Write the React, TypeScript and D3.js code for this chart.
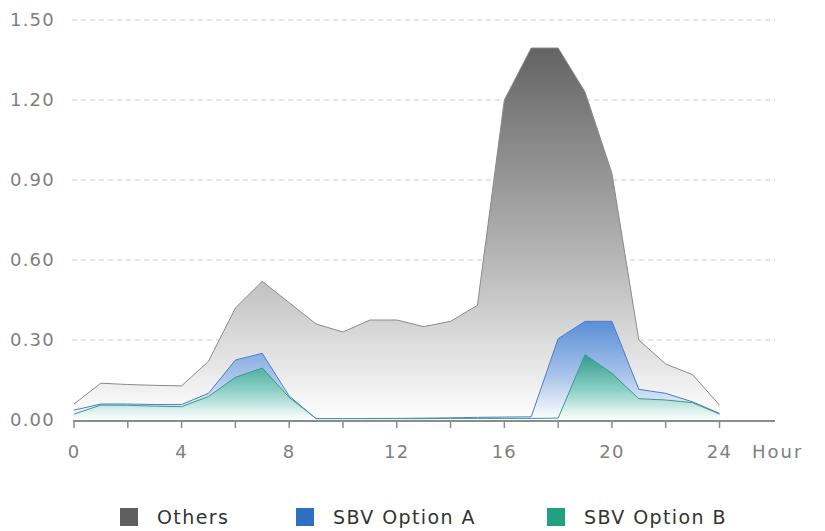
import React from "react";
import * as d3 from "d3";

const hours = d3.range(0, 25);
const others = [0.06, 0.138, 0.133, 0.13, 0.128, 0.22, 0.42, 0.52, 0.44, 0.36, 0.33, 0.375, 0.375, 0.35, 0.37, 0.43, 1.2, 1.395, 1.395, 1.23, 0.925, 0.3, 0.21, 0.17, 0.056];
const optionA = [0.037, 0.06, 0.06, 0.058, 0.058, 0.1, 0.225, 0.25, 0.09, 0.005, 0.005, 0.006, 0.006, 0.007, 0.008, 0.01, 0.011, 0.012, 0.305, 0.37, 0.37, 0.115, 0.1, 0.068, 0.025];
const optionB = [0.022, 0.056, 0.055, 0.052, 0.05, 0.088, 0.16, 0.195, 0.085, 0.005, 0.005, 0.005, 0.005, 0.005, 0.006, 0.006, 0.006, 0.006, 0.007, 0.245, 0.175, 0.08, 0.075, 0.065, 0.022];
const yTicks = [0, 0.3, 0.6, 0.9, 1.2, 1.5];
const xTicks = [0, 4, 8, 12, 16, 20, 24];
const minorTicks = d3.range(0, 25, 2);

const series = [
  { key: "others", name: "Others", values: others, top: "#636363", mid: "#b4b4b4", line: "#8a8a8a", legend: "#5f5f5f" },
  { key: "a", name: "SBV Option A", values: optionA, top: "#5a8fd8", mid: "#a9c3ea", line: "#4b7fc4", legend: "#2f6fc2" },
  { key: "b", name: "SBV Option B", values: optionB, top: "#2e9c8c", mid: "#8fd0c6", line: "#3a9a8c", legend: "#23a07f" },
];

const font = "'DejaVu Sans', sans-serif";

export default function App() {
  const width = 825;
  const height = 531;
  const x = d3.scaleLinear().domain([0, 24]).range([74, 719.5]);
  const y = d3.scaleLinear().domain([0, 1.5]).range([420, 20]);

  const area = d3
    .area<number>()
    .x((_, i) => x(hours[i]))
    .y0(y(0))
    .y1((d) => y(d));
  const line = d3
    .line<number>()
    .x((_, i) => x(hours[i]))
    .y((d) => y(d));

  const legendX = [120, 296, 547];

  return (
    <svg width={width} height={height} style={{ position: "absolute", left: 0, top: 0, background: "#fff" }}>
      <defs>
        {series.map((s) => {
          const peak = d3.max(s.values) as number;
          return (
            <linearGradient key={s.key} id={"g-" + s.key} gradientUnits="userSpaceOnUse" x1={0} x2={0} y1={y(peak)} y2={y(0)}>
              <stop offset="0%" stopColor={s.top} />
              <stop offset="55%" stopColor={s.mid} />
              <stop offset="100%" stopColor="#ffffff" />
            </linearGradient>
          );
        })}
      </defs>

      {yTicks.slice(1).map((t) => (
        <line key={t} x1={72} x2={775} y1={y(t)} y2={y(t)} stroke="#c8c8c8" strokeDasharray="5,4" strokeWidth={1} />
      ))}

      {series.map((s) => (
        <g key={s.key}>
          <path d={area(s.values) ?? ""} fill={`url(#g-${s.key})`} />
          <path d={line(s.values) ?? ""} fill="none" stroke={s.line} strokeWidth={1} />
        </g>
      ))}

      <line x1={73} x2={775} y1={421} y2={421} stroke="#8c8c8c" strokeWidth={2} />
      {minorTicks.map((t) => (
        <line key={t} x1={x(t)} x2={x(t)} y1={421} y2={428} stroke="#8c8c8c" strokeWidth={1.5} />
      ))}

      {yTicks.map((t) => (
        <text key={t} x={10} y={y(t)} dy="0.35em" fontFamily={font} fontSize={18} letterSpacing={1.2} fill="#808080">
          {t.toFixed(2)}
        </text>
      ))}
      {xTicks.map((t) => (
        <text key={t} x={x(t)} y={452} dy="0.35em" textAnchor="middle" fontFamily={font} fontSize={18} letterSpacing={1.2} fill="#808080">
          {t}
        </text>
      ))}
      <text x={752} y={452} dy="0.35em" fontFamily={font} fontSize={18} letterSpacing={2} fill="#808080">
        Hour
      </text>

      {series.map((s, i) => (
        <g key={s.key} transform={`translate(${legendX[i]},508)`}>
          <rect width={18} height={18} fill={s.legend} />
          <text x={37} y={9} dy="0.35em" fontFamily={font} fontSize={19} letterSpacing={1.4} fill="#333">
            {s.name}
          </text>
        </g>
      ))}
    </svg>
  );
}
